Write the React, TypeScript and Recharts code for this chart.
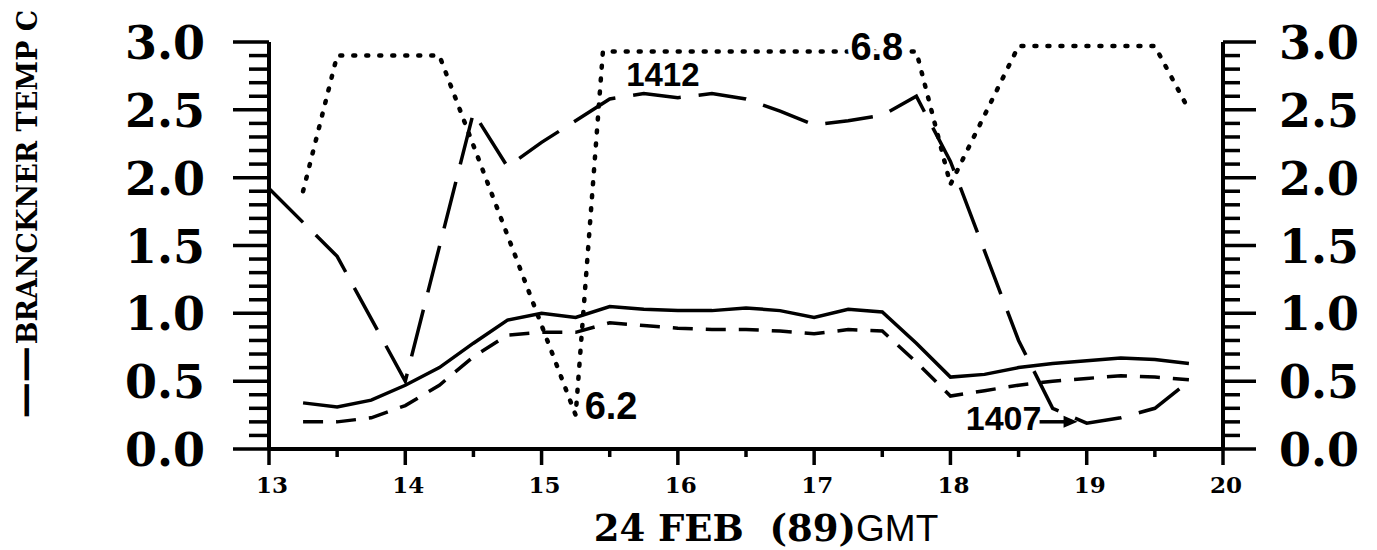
import React from 'react'
import { LineChart, Line, XAxis, YAxis, ReferenceDot } from 'recharts'

// quarter-hour series (Brackner temp + short dash)
const hours = [13.25, 13.5, 13.75, 14, 14.25, 14.5, 14.75, 15, 15.25, 15.5, 15.75, 16, 16.25, 16.5, 16.75, 17, 17.25, 17.5, 17.75, 18, 18.25, 18.5, 18.75, 19, 19.25, 19.5, 19.75]
const brancknerTemp = [0.34, 0.31, 0.36, 0.47, 0.6, 0.78, 0.95, 1.0, 0.97, 1.05, 1.03, 1.02, 1.02, 1.04, 1.02, 0.97, 1.03, 1.01, 0.78, 0.53, 0.55, 0.6, 0.63, 0.65, 0.67, 0.66, 0.63]
const shortDashTemp = [0.2, 0.2, 0.23, 0.32, 0.47, 0.68, 0.84, 0.86, 0.86, 0.93, 0.91, 0.89, 0.88, 0.88, 0.87, 0.85, 0.88, 0.87, 0.64, 0.39, 0.43, 0.47, 0.5, 0.52, 0.54, 0.53, 0.51]

// long dash series (1412 / 1407)
const longHours = [13, 13.5, 14, 14.5, 14.75, 15, 15.5, 15.75, 16, 16.25, 16.5, 16.75, 17, 17.25, 17.5, 17.75, 18, 18.25, 18.5, 18.75, 19, 19.25, 19.5, 19.75]
const longValues = [1.92, 1.42, 0.5, 2.48, 2.08, 2.26, 2.58, 2.62, 2.59, 2.62, 2.58, 2.49, 2.39, 2.42, 2.46, 2.6, 2.12, 1.46, 0.8, 0.3, 0.19, 0.23, 0.3, 0.5]

// dotted series (6.2 / 6.8), plotted against the right axis
const dotHours = [13.25, 13.5, 14.25, 15.25, 15.45, 17.75, 18, 18.5, 19.5, 19.75]
const dotValues = [1.9, 2.9, 2.9, 0.25, 2.93, 2.93, 1.95, 2.97, 2.97, 2.5]

const xTicks = [13, 13.5, 14, 14.5, 15, 15.5, 16, 16.5, 17, 17.5, 18, 18.5, 19, 19.5, 20]
const yTicks = Array.from({ length: 31 }, (_, i) => i / 10)

const notes = [
  { x: 15.89, y: 2.76, text: '1412', size: 33, axis: 'left' },
  { x: 17.46, y: 2.97, text: '6.8', size: 38, axis: 'right' },
  { x: 15.51, y: 0.32, text: '6.2', size: 38, axis: 'right' },
  { x: 18.39, y: 0.23, text: '1407', size: 34, axis: 'left', arrow: true },
]

const allHours = Array.from(new Set([...hours, ...longHours, ...dotHours])).sort((a, b) => a - b)
const table = allHours.map(h => {
  const row: any = { hour: h }
  const i = hours.indexOf(h)
  if (i >= 0) { row.temp = brancknerTemp[i]; row.short = shortDashTemp[i] }
  const j = longHours.indexOf(h)
  if (j >= 0) row.long = longValues[j]
  const k = dotHours.indexOf(h)
  if (k >= 0) row.dot = dotValues[k]
  return row
})

const SERIF = '"DejaVu Serif", serif'
const SANS = '"Liberation Sans", Arial, sans-serif'
const isMajor = (v: number) => Math.abs(v * 2 - Math.round(v * 2)) < 1e-6

const LeftTick = (p: any) => {
  const v = p.payload.value
  const major = isMajor(v)
  return (
    <g>
      <line x1={p.x} x2={p.x - (major ? 36 : 20)} y1={p.y} y2={p.y} stroke="#000" strokeWidth={3.5} />
      {major && <text x={p.x - 64} y={p.y + 17} textAnchor="end" fontFamily={SERIF} fontWeight="bold" fontSize={46} fill="#000">{v.toFixed(1)}</text>}
    </g>
  )
}

const RightTick = (p: any) => {
  const v = p.payload.value
  const major = isMajor(v)
  return (
    <g>
      <line x1={p.x} x2={p.x + (major ? 33 : 17)} y1={p.y} y2={p.y} stroke="#000" strokeWidth={3.5} />
      {major && <text x={p.x + 56} y={p.y + 17} textAnchor="start" fontFamily={SERIF} fontWeight="bold" fontSize={46} fill="#000">{v.toFixed(1)}</text>}
    </g>
  )
}

const BottomTick = (p: any) => {
  const v = p.payload.value
  const major = Number.isInteger(v)
  return (
    <g>
      <line x1={p.x} x2={p.x} y1={p.y} y2={p.y + (major ? 16 : 8)} stroke="#000" strokeWidth={3.5} />
      {major && <text x={p.x + 3} y={p.y + 44} textAnchor="middle" fontFamily={SERIF} fontWeight="bold" fontSize={23} fill="#000">{v}</text>}
    </g>
  )
}

const YTitle = ({ viewBox }: any) => (
  <g transform={`translate(${viewBox.x + 37}, 214) rotate(-90)`}>
    <text x={0} y={0} textAnchor="middle" fontFamily={SERIF} fontWeight="bold" fontSize={27} fill="#000">
      <tspan fontFamily='"DejaVu Sans", sans-serif' fontSize={36}>——</tspan>
      <tspan dx={2}>BRANCKNER TEMP C</tspan>
    </text>
  </g>
)

const XTitle = ({ viewBox }: any) => (
  <text x={viewBox.x + viewBox.width / 2 + 20} y={viewBox.y + 92} textAnchor="middle" fontFamily={SERIF} fontWeight="bold" fontSize={37} fill="#000" style={{ whiteSpace: 'pre' }}>
    24 FEB  (89)<tspan fontFamily={SANS} fontWeight="normal">GMT</tspan>
  </text>
)

const noteShape = (n: any) => (p: any) => (
  <g>
    <text x={p.cx} y={p.cy + n.size * 0.36} textAnchor="middle" fontFamily={SANS} fontWeight="bold" fontSize={n.size}
      fill="#000" stroke="#fff" strokeWidth={8} paintOrder="stroke" strokeLinejoin="round">{n.text}</text>
    {n.arrow && (
      <g>
        <line x1={p.cx + 36} x2={p.cx + 66} y1={p.cy + 4} y2={p.cy + 4} stroke="#000" strokeWidth={3.5} />
        <polygon points={`${p.cx + 74},${p.cy + 4} ${p.cx + 60},${p.cy - 2} ${p.cx + 60},${p.cy + 10}`} fill="#000" />
      </g>
    )}
  </g>
)

export default function App() {
  return (
    <div style={{ position: 'absolute', left: 0, top: 0, width: 1377, height: 550, background: '#fff' }}>
      <LineChart width={1377} height={550} data={table} margin={{ top: 42, right: 0, bottom: 0, left: 0 }}>
        <XAxis dataKey="hour" type="number" domain={[13, 20]} ticks={xTicks} interval={0} height={101}
          tickSize={0} tickMargin={0} tick={<BottomTick />} axisLine={{ stroke: '#000', strokeWidth: 4 }} tickLine={false}
          label={{ content: XTitle }} />
        <YAxis yAxisId="left" domain={[0, 3]} ticks={yTicks} interval={0} width={269}
          tickSize={0} tickMargin={0} tick={<LeftTick />} axisLine={{ stroke: '#000', strokeWidth: 4 }} tickLine={false}
          label={{ content: YTitle }} />
        <YAxis yAxisId="right" orientation="right" domain={[0, 3]} ticks={yTicks} interval={0} width={154}
          tickSize={0} tickMargin={0} tick={<RightTick />} axisLine={{ stroke: '#000', strokeWidth: 4 }} tickLine={false} />
        <Line yAxisId="right" type="linear" dataKey="dot" stroke="#000" strokeWidth={4.5} strokeDasharray="2 11" strokeLinecap="round" dot={false} connectNulls isAnimationActive={false} />
        <Line yAxisId="left" type="linear" dataKey="long" stroke="#000" strokeWidth={3.5} strokeDasharray="48 18" dot={false} connectNulls isAnimationActive={false} />
        <Line yAxisId="left" type="linear" dataKey="short" stroke="#000" strokeWidth={3.5} strokeDasharray="20 13" dot={false} connectNulls isAnimationActive={false} />
        <Line yAxisId="left" type="linear" dataKey="temp" stroke="#000" strokeWidth={3.5} dot={false} connectNulls isAnimationActive={false} />
        {notes.map(n => (
          <ReferenceDot key={n.text} yAxisId={n.axis} x={n.x} y={n.y} r={0} ifOverflow="visible" shape={noteShape(n)} />
        ))}
      </LineChart>
    </div>
  )
}
